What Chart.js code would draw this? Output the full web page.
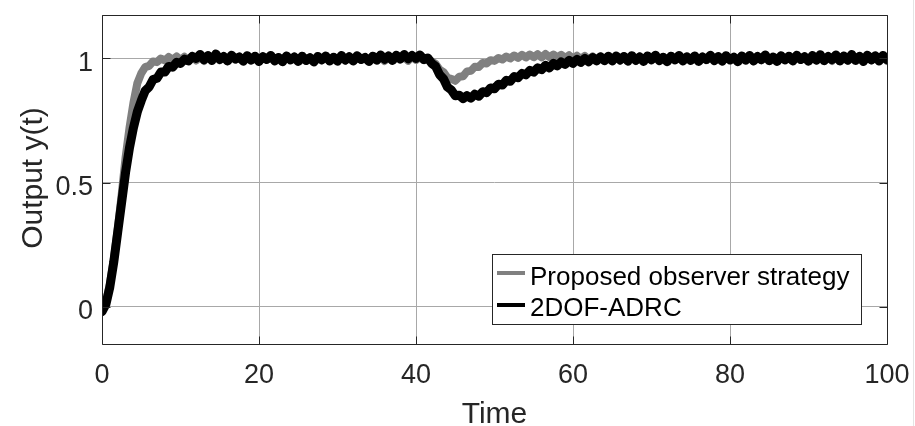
<!DOCTYPE html>
<html>
<head>
<meta charset="utf-8">
<script src="https://cdn.jsdelivr.net/npm/chart.js@4.4.1/dist/chart.umd.min.js"></script>
<style>
  html, body { margin: 0; padding: 0; background: #ffffff; }
  #c { display: block; }
</style>
</head>
<body>
<canvas id="c" width="915" height="426"></canvas>
<script>
// ---- data (time step 0.5 s, t = 0 ... 100) ----
const seriesNames = ['Proposed observer strategy', '2DOF-ADRC'];
const xTicks = [0, 20, 40, 60, 80, 100];
const xTickLabels = ['0', '20', '40', '60', '80', '100'];
const yTicks = [0, 0.5, 1];
const yTickLabels = ['0', '0.5', '1'];
const xTitle = 'Time';
const yTitle = 'Output y(t)';
const timeStep = 0.5;

const proposed = [
  -0.01, 0.02, 0.09, 0.19, 0.31, 0.45, 0.6, 0.72, 0.82, 0.9,          // 0-4.5
  0.94, 0.965, 0.97, 0.988, 0.985, 1.0, 0.992, 1.006, 0.995, 1.008,   // 5-9.5
  0.993, 1.007, 0.994, 1.01, 0.992, 1.005, 0.99, 1.008, 0.996, 1.011, // 10
  0.993, 1.006, 0.99, 1.009, 0.995, 1.004, 0.991, 1.01, 0.994, 1.007, // 15
  0.99, 1.006, 0.995, 1.009, 0.992, 1.005, 0.99, 1.01, 0.994, 1.006,  // 20
  0.991, 1.008, 0.995, 1.004, 0.99, 1.009, 0.993, 1.007, 0.991, 1.005,// 25
  0.994, 1.01, 0.992, 1.006, 0.99, 1.008, 0.995, 1.004, 0.991, 1.009, // 30
  0.994, 1.007, 0.99, 1.006, 0.993, 1.01, 0.995, 1.005, 0.991, 1.008, // 35
  0.994, 1.006, 0.993, 0.998, 0.988, 0.978, 0.955, 0.945, 0.922, 0.918, // 40
  0.91, 0.926, 0.928, 0.948, 0.95, 0.967, 0.966, 0.982, 0.98, 0.993,  // 45
  0.99, 1.002, 0.996, 1.008, 1.0, 1.012, 1.002, 1.015, 1.004, 1.016,  // 50
  1.005, 1.017, 1.004, 1.018, 1.005, 1.016, 1.004, 1.015, 1.002, 1.013, // 55
  1.0, 1.011, 0.998, 1.01, 0.996, 1.008, 0.995, 1.007, 0.993, 1.008,  // 60
  0.992, 1.006, 0.991, 1.009, 0.994, 1.005, 0.99, 1.008, 0.995, 1.006,// 65
  0.992, 1.01, 0.993, 1.005, 0.99, 1.008, 0.995, 1.007, 0.991, 1.006, // 70
  0.994, 1.009, 0.99, 1.005, 0.993, 1.01, 0.992, 1.006, 0.99, 1.008,  // 75
  0.995, 1.004, 0.991, 1.009, 0.994, 1.007, 0.99, 1.006, 0.993, 1.01, // 80
  0.992, 1.005, 0.99, 1.008, 0.995, 1.006, 0.991, 1.009, 0.994, 1.007,// 85
  0.99, 1.006, 0.993, 1.01, 0.992, 1.005, 0.99, 1.008, 0.995, 1.006,  // 90
  0.991, 1.009, 0.994, 1.007, 0.99, 1.006, 0.993, 1.01, 0.992, 1.005, // 95
  0.99                                                                 // 100
];

const adrc = [
  -0.02, 0.01, 0.08, 0.18, 0.30, 0.42, 0.54, 0.64, 0.72, 0.785,        // 0-4.5
  0.83, 0.87, 0.885, 0.915, 0.92, 0.945, 0.945, 0.968, 0.965, 0.985,   // 5-9.5
  0.98, 0.997, 0.99, 1.008, 1.0, 1.016, 0.995, 1.012, 0.992, 1.018,    // 10
  0.996, 1.008, 0.99, 1.013, 0.998, 1.006, 0.989, 1.011, 0.993, 1.009, // 15
  0.988, 1.007, 0.996, 1.012, 0.99, 1.004, 0.987, 1.01, 0.994, 1.006,  // 20
  0.988, 1.009, 0.992, 1.003, 0.986, 1.008, 0.995, 1.01, 0.99, 1.005,  // 25
  0.989, 1.012, 0.994, 1.007, 0.99, 1.011, 0.996, 1.004, 0.988, 1.009, // 30
  0.993, 1.014, 0.997, 1.01, 0.992, 1.013, 0.998, 1.016, 0.999, 1.012, // 35
  1.0, 1.014, 0.996, 1.002, 0.98, 0.968, 0.935, 0.918, 0.885, 0.873,   // 40
  0.85, 0.852, 0.838, 0.85, 0.84, 0.856, 0.848, 0.866, 0.862, 0.881,   // 45
  0.878, 0.896, 0.893, 0.912, 0.908, 0.927, 0.922, 0.94, 0.934, 0.952, // 50
  0.945, 0.962, 0.955, 0.972, 0.962, 0.98, 0.97, 0.986, 0.976, 0.992,  // 55
  0.98, 0.996, 0.984, 1.0, 0.987, 1.004, 0.99, 1.007, 0.991, 1.009,    // 60
  0.99, 1.01, 0.994, 1.008, 0.989, 1.011, 0.993, 1.006, 0.988, 1.01,   // 65
  0.995, 1.013, 0.991, 1.005, 0.987, 1.009, 0.994, 1.012, 0.99, 1.007, // 70
  0.992, 1.01, 0.988, 1.006, 0.996, 1.013, 0.991, 1.008, 0.989, 1.011, // 75
  0.994, 1.005, 0.987, 1.01, 0.993, 1.012, 0.99, 1.008, 0.995, 1.014,  // 80
  0.991, 1.006, 0.988, 1.011, 0.994, 1.009, 0.99, 1.013, 0.996, 1.007, // 85
  0.989, 1.012, 0.993, 1.015, 0.991, 1.008, 0.995, 1.014, 0.99, 1.01,  // 90
  0.993, 1.016, 0.992, 1.009, 0.988, 1.013, 0.994, 1.011, 0.99, 1.012, // 95
  0.995                                                                 // 100
];

const times = proposed.map((_, i) => i * timeStep);
const toPoints = (vals) => vals.map((v, i) => ({ x: times[i], y: v }));

const colors = ['#808080', '#000000'];
const FONT = '"Liberation Sans", Arial, Helvetica, sans-serif';
const INK = '#262626';

const framePlugin = {
  id: 'frame',
  afterDraw(chart) {
    const { ctx, chartArea: a, scales } = chart;
    const xs = scales.x, ys = scales.y;
    const L = Math.round(a.left) + 0.5, R = Math.round(a.right) + 0.5;
    const T = Math.round(a.top) + 0.5, B = Math.round(a.bottom) + 0.5;
    ctx.save();
    // faint figure edge line
    ctx.strokeStyle = '#e4e4e4'; ctx.lineWidth = 1;
    ctx.beginPath(); ctx.moveTo(913.5, 0); ctx.lineTo(913.5, 426); ctx.stroke();

    // axes box
    ctx.strokeStyle = INK; ctx.lineWidth = 1;
    ctx.beginPath();
    ctx.moveTo(L, T); ctx.lineTo(R, T); ctx.lineTo(R, B); ctx.lineTo(L, B); ctx.closePath();
    ctx.stroke();
    // inward ticks
    const tl = 8;
    ctx.beginPath();
    xs.ticks.forEach(t => {
      const px = Math.round(xs.getPixelForValue(t.value)) + 0.5;
      ctx.moveTo(px, B); ctx.lineTo(px, B - tl);
      ctx.moveTo(px, T); ctx.lineTo(px, T + tl);
    });
    ys.ticks.forEach(t => {
      const py = Math.round(ys.getPixelForValue(t.value)) + 0.5;
      ctx.moveTo(L, py); ctx.lineTo(L + tl, py);
      ctx.moveTo(R, py); ctx.lineTo(R - tl, py);
    });
    ctx.stroke();

    // tick labels
    ctx.fillStyle = INK;
    ctx.font = '27px ' + FONT;
    ctx.textBaseline = 'alphabetic';
    ctx.textAlign = 'center';
    xs.ticks.forEach(t => {
      const px = xs.getPixelForValue(t.value);
      ctx.fillText(t.label, px, 383);
    });
    ctx.textAlign = 'right';
    ys.ticks.forEach(t => {
      const py = ys.getPixelForValue(t.value);
      ctx.fillText(t.label, 93, py + 12.5);
    });

    // axis titles
    ctx.font = '30px ' + FONT;
    ctx.textAlign = 'center';
    ctx.fillText(xTitle, (a.left + a.right) / 2, 423);
    ctx.save();
    ctx.translate(41.5, 178);
    ctx.rotate(-Math.PI / 2);
    ctx.fillText(yTitle, 0, 0);
    ctx.restore();

    // legend
    const bx = 492.5, by = 254.5, bw = 369, bh = 70;
    ctx.fillStyle = '#ffffff';
    ctx.fillRect(bx, by, bw, bh);
    ctx.strokeStyle = INK; ctx.lineWidth = 1;
    ctx.strokeRect(bx, by, bw, bh);
    const rowsY = [273, 305];
    const baseY = [284.5, 316];
    ctx.font = '26px ' + FONT;
    ctx.textAlign = 'left';
    chart.data.datasets.forEach((ds, i) => {
      ctx.strokeStyle = ds.borderColor;
      ctx.lineWidth = 4;
      ctx.beginPath();
      ctx.moveTo(497, rowsY[i]); ctx.lineTo(525, rowsY[i]);
      ctx.stroke();
      ctx.fillStyle = '#000000';
      ctx.fillText(ds.label, 530, baseY[i]);
    });
    ctx.restore();
  }
};

new Chart(document.getElementById('c'), {
  type: 'line',
  data: {
    datasets: [
      {
        label: seriesNames[0],
        data: toPoints(proposed),
        borderColor: colors[0],
        borderWidth: 8,
        pointRadius: 0,
        tension: 0,
        borderJoinStyle: 'round',
        borderCapStyle: 'round',
        order: 2
      },
      {
        label: seriesNames[1],
        data: toPoints(adrc),
        borderColor: colors[1],
        borderWidth: 9,
        pointRadius: 0,
        tension: 0,
        borderJoinStyle: 'round',
        borderCapStyle: 'round',
        order: 1
      }
    ]
  },
  options: {
    responsive: false,
    devicePixelRatio: 1,
    animation: false,
    layout: { padding: { left: 0, right: 28, top: 15, bottom: 0 } },
    plugins: { legend: { display: false }, tooltip: { enabled: false } },
    scales: {
      x: {
        type: 'linear',
        min: 0, max: 100,
        afterBuildTicks: (s) => { s.ticks = xTicks.map(v => ({ value: v })); },
        ticks: { display: false, callback: (v) => xTickLabels[xTicks.indexOf(v)] },
        grid: { color: '#a8a8a8', lineWidth: 1, drawTicks: false },
        border: { display: false },
        afterFit: (s) => { s.height = 82; }
      },
      y: {
        type: 'linear',
        min: -0.15, max: 1.175,
        afterBuildTicks: (s) => { s.ticks = yTicks.map(v => ({ value: v })); },
        ticks: { display: false, callback: (v) => yTickLabels[yTicks.indexOf(v)] },
        grid: { color: '#a8a8a8', lineWidth: 1, drawTicks: false },
        border: { display: false },
        afterFit: (s) => { s.width = 102; }
      }
    }
  },
  plugins: [framePlugin]
});
</script>
</body>
</html>
